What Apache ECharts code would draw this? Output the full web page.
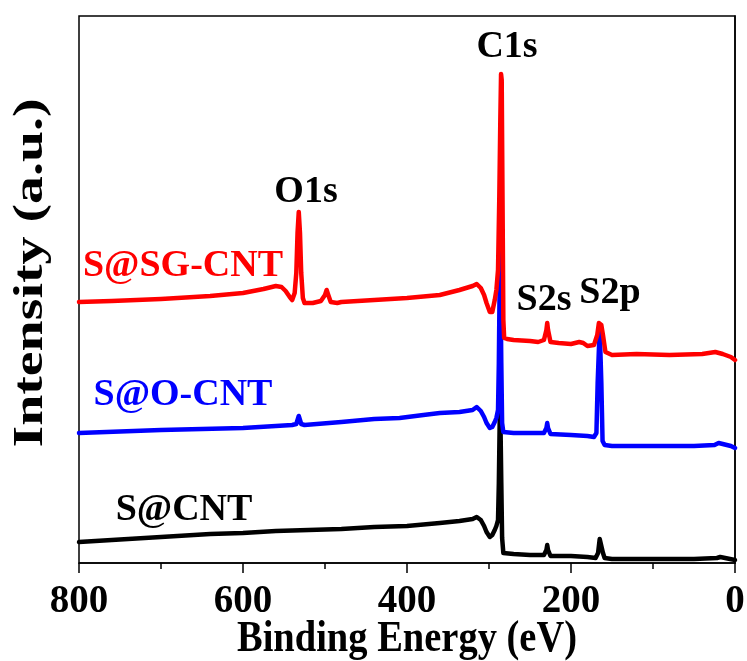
<!DOCTYPE html>
<html>
<head>
<meta charset="utf-8">
<title>XPS survey spectra</title>
<script src="https://cdn.jsdelivr.net/npm/echarts@6/dist/echarts.min.js"></script>
<style>
  html, body { margin: 0; padding: 0; background: #fff; }
  #chart { width: 747px; height: 661px; }
</style>
</head>
<body>
<div id="chart"></div>
<script>
// XPS survey spectra, [binding energy (eV), intensity (a.u., offset stacked)]
const sCnt = [
  [800,21],[760,23],[700,26],[640,29],[600,30],[560,32],[520,33],[480,34],[440,36],[400,37],
  [360,40],[336,42],[320,44],[315,46],[310,43],[306,37],[303,31],[299,26],[296,28],[293,33],
  [291,37],[289,43],[288,80],[287,140],[286.5,160],[286,140],[285,80],[284,25],[282.5,10],
  [270,9],[250,8],[233,8],[230,13],[229,18],[228,13],[225,7],[200,7],[180,6],[170,5],
  [167,10],[165,24],[163,24],[161,10],[159,5],[150,4],[100,4],[50,4],[22,5],[18,6],[12,5],[0,3]
];

const sOCnt = [
  [800,130],[700,133],[600,135],[540,138],[535,139],[533.5,143],[532,147],[530.5,143],[529,139],
  [525,138],[480,141],[440,144],[409,145],[380,148],[360,150],[336,151],[320,153],[315,156],
  [310,152],[306,146],[303,140],[299,135],[296,136],[293,141],[291,145],[289,153],[288,200],
  [287,280],[286.5,310],[286,280],[285,200],[284,140],[282.5,131],[270,130],[250,130],[233,130],
  [230,135],[229,140],[228,135],[225,129],[200,128],[180,127],[172,126],[169,130],[167.5,180],
  [165,235],[163,180],[161.5,122],[159,118],[150,117],[100,117],[50,117],[25,118],[20,120],
  [15,119],[5,117],[0,115]
];

const sSgCnt = [
  [800,261],[760,262],[700,264],[640,267],[600,270],[575,274],[560,277],[553,276],[548,272],
  [543,266],[540,263],[537,270],[535,290],[533.5,330],[532,351],[530.5,330],[529,290],[527,265],
  [525,260],[515,260],[505,262],[500,268],[498,273],[496,268],[493,261],[485,260],[480,261],
  [440,263],[400,265],[360,268],[336,273],[320,277],[315,279],[310,275],[306,268],[303,260],
  [299,251],[296,251],[293,263],[291,273],[289,293],[287.5,363],[286.2,443],[285.3,489],
  [284.5,483],[283.5,363],[282.5,243],[281.5,225],[278,224],[270,223],[250,222],[240,221],
  [233,223],[230,233],[229,240],[228,233],[225,221],[215,220],[200,219],[190,221],[185,220],
  [180,217],[172,218],[168,228],[166,240],[164.5,241],[163,238],[161,228],[158,211],[150,208],
  [120,209],[80,208],[40,209],[24,211],[15,209],[5,206],[0,203]
];

const sampleNames = ['S@CNT', 'S@O-CNT', 'S@SG-CNT'];
const sampleColors = ['#000000', '#0000ff', '#ff0000'];
const energyTicks = [0, 200, 400, 600, 800];

// peak assignments and sample captions: [text, x, y, colour]
const peakLabels = [
  ['C1s', 507, 47, '#000'],
  ['O1s', 306, 192, '#000'],
  ['S2s', 544, 300, '#000'],
  ['S2p', 610, 293, '#000']
];
const sampleCaptions = [
  ['S@SG-CNT', 183, 266, '#ff0000'],
  ['S@O-CNT', 183, 395, '#0000ff'],
  ['S@CNT', 184, 510, '#000000']
];

const FONT = '"Liberation Serif", "Times New Roman", serif';

const chart = echarts.init(document.getElementById('chart'), null, { renderer: 'canvas' });

function boldText(text, fontSize, color) {
  return {
    text: text, x: 0, y: 0, fill: color,
    fontFamily: FONT, fontWeight: 'bold', fontSize: fontSize,
    align: 'center', verticalAlign: 'middle'
  };
}

const textItems = peakLabels.concat(sampleCaptions).map(function (t) {
  return { type: 'text', z: 100, x: t[1], y: t[2], style: boldText(t[0], 38, t[3]) };
});

// axis titles, set in tall bold serif
textItems.push({
  type: 'text', z: 100, x: 407, y: 640, scaleY: 1.15,
  style: boldText('Binding Energy (eV)', 38.5, '#000')
});
textItems.push({
  type: 'text', z: 100, x: 31, y: 273, rotation: Math.PI / 2, scaleX: 1.33,
  style: boldText('Intensity (a.u.)', 42, '#000')
});

chart.setOption({
  animation: false,
  backgroundColor: '#fff',
  grid: {
    left: 79, right: 12, top: 16, bottom: 98,
    containLabel: false, outerBoundsMode: 'none',
    show: true, borderColor: '#000', borderWidth: 1.5, backgroundColor: 'transparent'
  },
  xAxis: {
    type: 'value',
    min: energyTicks[0],
    max: energyTicks[energyTicks.length - 1],
    interval: 200,
    inverse: true,
    axisLine: { show: true, lineStyle: { color: '#000', width: 1.5 } },
    axisTick: { show: true, inside: false, length: 10, lineStyle: { color: '#000', width: 1.5 } },
    minorTick: { show: true, splitNumber: 2, length: 6, lineStyle: { color: '#000', width: 1.5 } },
    axisLabel: {
      margin: 19,
      fontFamily: FONT, fontWeight: 'bold', fontSize: 39, color: '#000',
      formatter: function (v) { return String(v); }
    },
    splitLine: { show: false }
  },
  yAxis: {
    type: 'value',
    min: 0,
    max: 547,
    axisLine: { show: true, lineStyle: { color: '#000', width: 1.5 } },
    axisTick: { show: false },
    axisLabel: { show: false },
    splitLine: { show: false }
  },
  series: [sCnt, sOCnt, sSgCnt].map(function (d, i) {
    return {
      name: sampleNames[i],
      type: 'line',
      data: d,
      showSymbol: false,
      smooth: false,
      z: 2 + i,
      lineStyle: { color: sampleColors[i], width: 4.5, join: 'round', cap: 'round' }
    };
  }),
  graphic: textItems
});
</script>
</body>
</html>
